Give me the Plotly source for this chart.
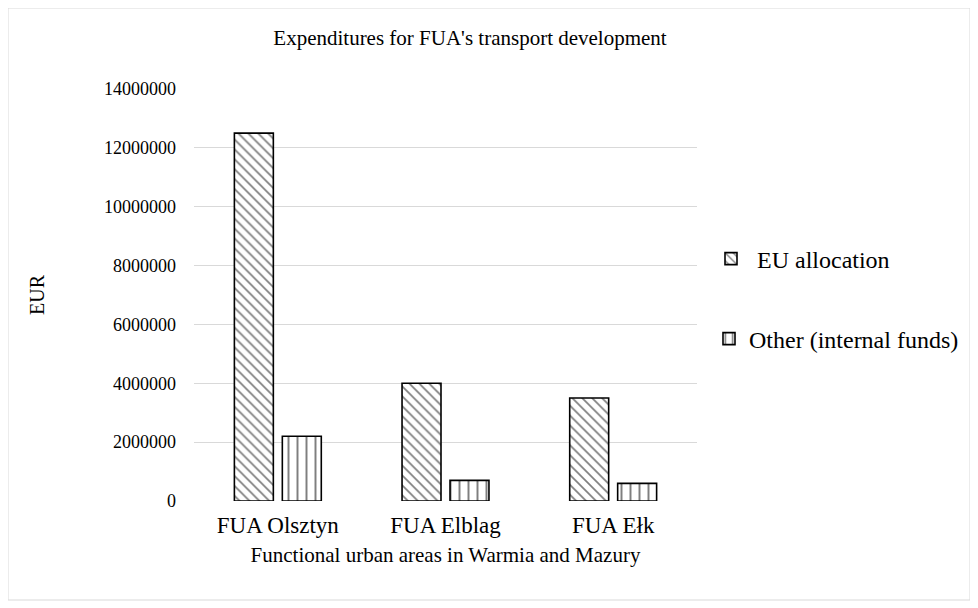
import plotly.graph_objects as go

categories = ["FUA Olsztyn", "FUA Elblag", "FUA Ełk"]
eu_allocation = [12500000, 4000000, 3500000]
other_funds = [2200000, 700000, 600000]
y_ticks = [0, 2000000, 4000000, 6000000, 8000000, 10000000, 12000000, 14000000]

OFF = 8  # browser body margin
W, H = 978 - OFF, 608 - OFF
# plot area in reference (screen) pixels
PX0, PX1, PY0, PY1 = 194, 697, 89, 501
L, R, T, B = PX0 - OFF, W - (PX1 - OFF), PY0 - OFF, H - (PY1 - OFF)
pw, ph = W - L - R, H - T - B
FONT = "Liberation Serif, Times New Roman, serif"


def px_x(x):
    return (x - PX0) / pw


def px_y(y):
    return (PY1 - y) / ph


fig = go.Figure()
fig.add_trace(go.Bar(
    x=categories, y=eu_allocation, name=" EU allocation",
    marker=dict(color="white", line=dict(color="black", width=1.6),
                pattern=dict(shape="\\", fgcolor="black", bgcolor="white", size=7, solidity=0.24)),
    legend="legend", showlegend=True,
))
fig.add_trace(go.Bar(
    x=categories, y=other_funds, name="Other (internal funds)",
    marker=dict(color="white", line=dict(color="black", width=1.6),
                pattern=dict(shape="|", fgcolor="black", bgcolor="white", size=9, solidity=0.22)),
    legend="legend2", showlegend=True,
))

fig.update_layout(
    width=W, height=H,
    margin=dict(l=L, r=R, t=T, b=B, pad=0),
    paper_bgcolor="white", plot_bgcolor="white",
    font=dict(family=FONT, size=20, color="black"),
    showlegend=True,
    barmode="group", bargap=0.428, bargroupgap=0.1875,
    title=dict(text="Expenditures for FUA's transport development",
               font=dict(family=FONT, size=21, color="black"),
               x=px_x(470), xref="paper", xanchor="center",
               y=1 - (38 - OFF) / H, yref="container", yanchor="middle"),
    xaxis=dict(showgrid=False, showline=False, ticks="", zeroline=False,
               ticklabelstandoff=8,
               title=dict(text="Functional urban areas in Warmia and Mazury", standoff=10,
                          font=dict(size=21)),
               tickfont=dict(size=23)),
    yaxis=dict(range=[0, 14000000], tickvals=y_ticks, ticktext=[str(v) for v in y_ticks],
               showgrid=True, gridcolor="#d9d9d9", gridwidth=1, zeroline=False, showline=False,
               ticks="", ticklabelstandoff=17,
               title=dict(text="EUR", standoff=54, font=dict(size=20)), tickfont=dict(size=18)),
    legend=dict(x=px_x(711), y=px_y(259), xanchor="left", yanchor="middle",
                bgcolor="rgba(0,0,0,0)", font=dict(size=24), itemwidth=30),
    legend2=dict(x=px_x(709), y=px_y(339), xanchor="left", yanchor="middle",
                 bgcolor="rgba(0,0,0,0)", font=dict(size=24), itemwidth=30),
    shapes=[dict(type="rect", xref="paper", yref="paper",
                 x0=px_x(8), x1=px_x(970), y0=px_y(600), y1=px_y(8),
                 line=dict(color="#d9d9d9", width=1), fillcolor="rgba(0,0,0,0)", layer="below")],
)

fig.write_html("out.html")
